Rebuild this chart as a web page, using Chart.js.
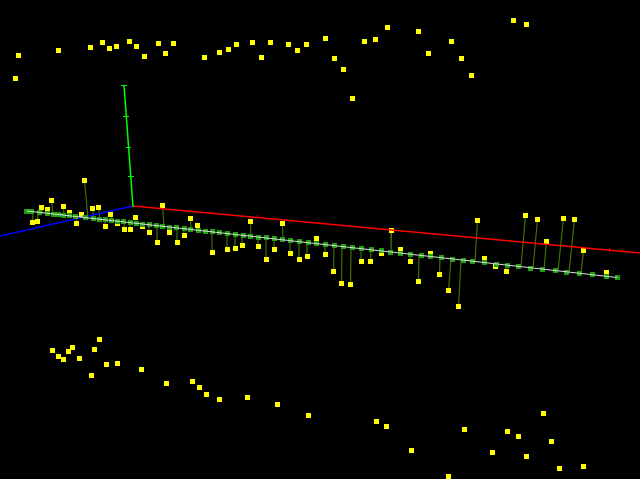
<!DOCTYPE html>
<html>
<head>
<meta charset="utf-8">
<style>
  html, body { margin: 0; padding: 0; background: #000; overflow: hidden; }
  canvas { display: block; }
</style>
<script src="https://cdn.jsdelivr.net/npm/chart.js@4"></script>
</head>
<body>
<canvas id="plot" width="640" height="479"></canvas>
<script>
// projected positions
const upperX = [18.5, 15.5, 58.5, 90.5, 102.5, 109.5, 116.5, 129.5, 136.5, 144.5, 158.5, 165.5, 173.5, 204.5, 219.5, 228.5, 236.5, 252.5, 261.5, 270.5, 288.5, 297.5, 306.5, 325.5, 334.5, 343.5, 352.5, 364.5, 375.5, 387.5, 418.5, 428.5, 451.5, 461.5, 471.5, 513.5, 526.5];
const upperY = [55.5, 78.5, 50.5, 47.5, 42.5, 48.5, 46.5, 41.5, 46.5, 56.5, 43.5, 53.5, 43.5, 57.5, 52.5, 49.5, 44.5, 42.5, 57.5, 42.5, 44.5, 50.5, 44.5, 38.5, 58.5, 69.5, 98.5, 41.5, 39.5, 27.5, 31.5, 53.5, 41.5, 58.5, 75.5, 20.5, 24.5];

const lowerX = [52.5, 58.5, 63.5, 68.5, 72.5, 79.5, 91.5, 94.5, 99.5, 106.5, 117.5, 141.5, 166.5, 192.5, 199.5, 206.5, 219.5, 247.5, 277.5, 308.5, 376.5, 386.5, 411.5, 448.5, 464.5, 492.5, 507.5, 518.5, 526.5, 543.5, 551.5, 559.5, 583.5];
const lowerY = [350.5, 356.5, 359.5, 351.5, 347.5, 358.5, 375.5, 349.5, 339.5, 364.5, 363.5, 369.5, 383.5, 381.5, 387.5, 394.5, 399.5, 397.5, 404.5, 415.5, 421.5, 426.5, 450.5, 476.5, 429.5, 452.5, 431.5, 436.5, 456.5, 413.5, 441.5, 468.5, 466.5];

const bandX = [32.5, 37.5, 41.5, 47.5, 51.5, 63.5, 69.5, 76.5, 81.5, 84.5, 92.5, 98.5, 105.5, 110.5, 117.5, 124.5, 130.5, 135.5, 142.5, 149.5, 157.5, 162.5, 169.5, 177.5, 184.5, 190.5, 197.5, 212.5, 219.5, 227.5, 235.5, 242.5, 250.5, 258.5, 266.5, 274.5, 282.5, 290.5, 299.5, 307.5, 316.5, 325.5, 333.5, 341.5, 350.5, 361.5, 370.5, 381.5, 391.5, 400.5, 410.5, 418.5, 430.5, 439.5, 448.5, 458.5, 477.5, 484.5, 495.5, 506.5, 525.5, 537.5, 546.5, 563.5, 574.5, 583.5, 606.5];
const bandY = [222.5, 221.5, 207.5, 209.5, 200.5, 206.5, 212.5, 223.5, 214.5, 180.5, 208.5, 207.5, 226.5, 214.5, 223.5, 229.5, 229.5, 217.5, 226.5, 232.5, 242.5, 205.5, 232.5, 242.5, 235.5, 218.5, 225.5, 252.5, 232.5, 249.5, 248.5, 245.5, 221.5, 246.5, 259.5, 249.5, 223.5, 253.5, 259.5, 256.5, 238.5, 254.5, 271.5, 283.5, 284.5, 261.5, 261.5, 253.5, 230.5, 249.5, 261.5, 281.5, 253.5, 274.5, 290.5, 306.5, 220.5, 258.5, 266.5, 271.5, 215.5, 219.5, 241.5, 218.5, 219.5, 250.5, 272.5];
const footX = [33, 38, 42, 48, 53, 64, 70, 77, 82, 88, 94, 100, 105, 112, 117, 124, 130, 136, 142, 149, 157, 164, 169, 177, 184, 191, 197, 212, 219, 227, 235, 242, 251, 258, 266, 274, 283, 290, 299, 307, 317, 325, 334, 342, 351, 361, 371, 381, 391, 400, 410, 419, 430, 440, 451, 461, 475, 484, 495, 506, 521, 533, 544, 558, 569, 581, 606];
const footY = [211.7, 212.2, 212.7, 213.4, 213.9, 215.2, 215.8, 216.6, 217.2, 217.9, 218.6, 219.2, 219.9, 220.6, 222, 222, 222.6, 223.3, 224, 224.7, 225.6, 226.4, 227, 227.9, 228.7, 229.5, 230.2, 231.8, 232.6, 233.5, 234.4, 235.2, 236.2, 237, 237.9, 238.8, 239.9, 240.6, 241.7, 242.6, 243.7, 244.6, 245.6, 246.5, 247.5, 248.6, 249.8, 250.9, 252, 253, 254.2, 255.2, 256.4, 257.5, 258.8, 260, 261.4, 262.5, 263.7, 265, 266.7, 268, 269.3, 270.9, 272.1, 273.5, 276.2];

const nodeX = [26.5, 31.5, 39.5, 47.5, 53.5, 58.5, 63.5, 69.5, 75.5, 85.5, 93.5, 99.5, 105.5, 111.5, 117.5, 123.5, 130.5, 136.5, 142.5, 149.5, 156.5, 162.5, 169.5, 176.5, 184.5, 190.5, 198.5, 205.5, 212.5, 219.5, 227.5, 235.5, 243.5, 250.5, 258.5, 266.5, 274.5, 282.5, 290.5, 299.5, 308.5, 316.5, 325.5, 334.5, 343.5, 352.5, 361.5, 371.5, 381.5, 390.5, 400.5, 410.5, 421.5, 430.5, 441.5, 452.5, 463.5, 472.5, 484.5, 496.5, 507.5, 518.5, 530.5, 542.5, 555.5, 566.5, 579.5, 592.5, 606.5, 617.5];
const nodeY = [211.5, 211.5, 212.5, 213.5, 214.5, 214.5, 215.5, 215.5, 216.5, 217.5, 218.5, 219.5, 219.5, 220.5, 221.5, 221.5, 222.5, 223.5, 224.5, 224.5, 225.5, 226.5, 227.5, 227.5, 228.5, 229.5, 230.5, 231.5, 231.5, 232.5, 233.5, 234.5, 235.5, 236.5, 237.5, 237.5, 238.5, 239.5, 240.5, 241.5, 242.5, 243.5, 244.5, 245.5, 246.5, 247.5, 248.5, 249.5, 250.5, 252.5, 253.5, 254.5, 255.5, 256.5, 257.5, 259.5, 260.5, 261.5, 262.5, 264.5, 265.5, 266.5, 268.5, 269.5, 270.5, 272.5, 273.5, 274.5, 276.5, 277.5];

const spineX = [27, 617];
const spineY = [211, 277.5];
const redX = [133, 640];
const redY = [206, 253];
const blueX = [133, 0];
const blueY = [206, 236];
const greenX = [133, 124];
const greenY = [207, 85];

const greenTickX = [121, 127, null, 123, 129, null, 126, 131, null, 128, 134];
const greenTickY = [85.5, 85.5, null, 116.5, 116.5, null, 147.5, 147.5, null, 176.5, 176.5];
const redTickX = [609.5, 609.5, null, 257.5, 257.5];
const redTickY = [248.5, 251.5, null, 215, 218];

function pts(xs, ys) {
  return xs.map((x, i) => ({ x: x, y: ys[i] }));
}

const stems = [];
bandX.forEach((x, i) => {
  stems.push({ x: x, y: bandY[i] }, { x: footX[i], y: footY[i] }, { x: null, y: null });
});

function line(data, color, width, order) {
  return { data: data, showLine: true, borderColor: color, borderWidth: width, pointRadius: 0, order: order, spanGaps: false };
}

function squares(data, color, order) {
  return { data: data, showLine: false, pointStyle: "rect", pointRadius: 3.54, pointBackgroundColor: color, pointBorderWidth: 0, order: order };
}

const plotCtx = document.getElementById("plot").getContext("2d");
const plot = new Chart(plotCtx, {
  type: "scatter",
  data: {
    datasets: [
      line(stems, "#3f7000", 1.2, 10),
      squares(pts(upperX, upperY), "#ffff00", 9),
      squares(pts(lowerX, lowerY), "#ffff00", 9),
      squares(pts(bandX, bandY), "#ffff00", 9),
      line(pts(blueX, blueY), "#0000ff", 1.5, 7),
      squares(pts(nodeX, nodeY), "#1f9f10", 6),
      line(pts(spineX, spineY), "#dddddd", 1, 5),
      line(pts(redX, redY), "#ff0000", 1.5, 4),
      line(pts(redTickX, redTickY), "#ff0000", 1, 4),
      line(pts(greenX, greenY), "#00ff00", 1.5, 3),
      line(pts(greenTickX, greenTickY), "#00ff00", 1, 3),
    ],
  },
  options: {
    responsive: false,
    animation: false,
    layout: { padding: 0, autoPadding: false },
    plugins: { legend: { display: false }, tooltip: { enabled: false } },
    scales: {
      x: { type: "linear", display: false, min: 0, max: 640 },
      y: { type: "linear", display: false, min: 0, max: 479, reverse: true },
    },
  },
});
</script>
</body>
</html>
